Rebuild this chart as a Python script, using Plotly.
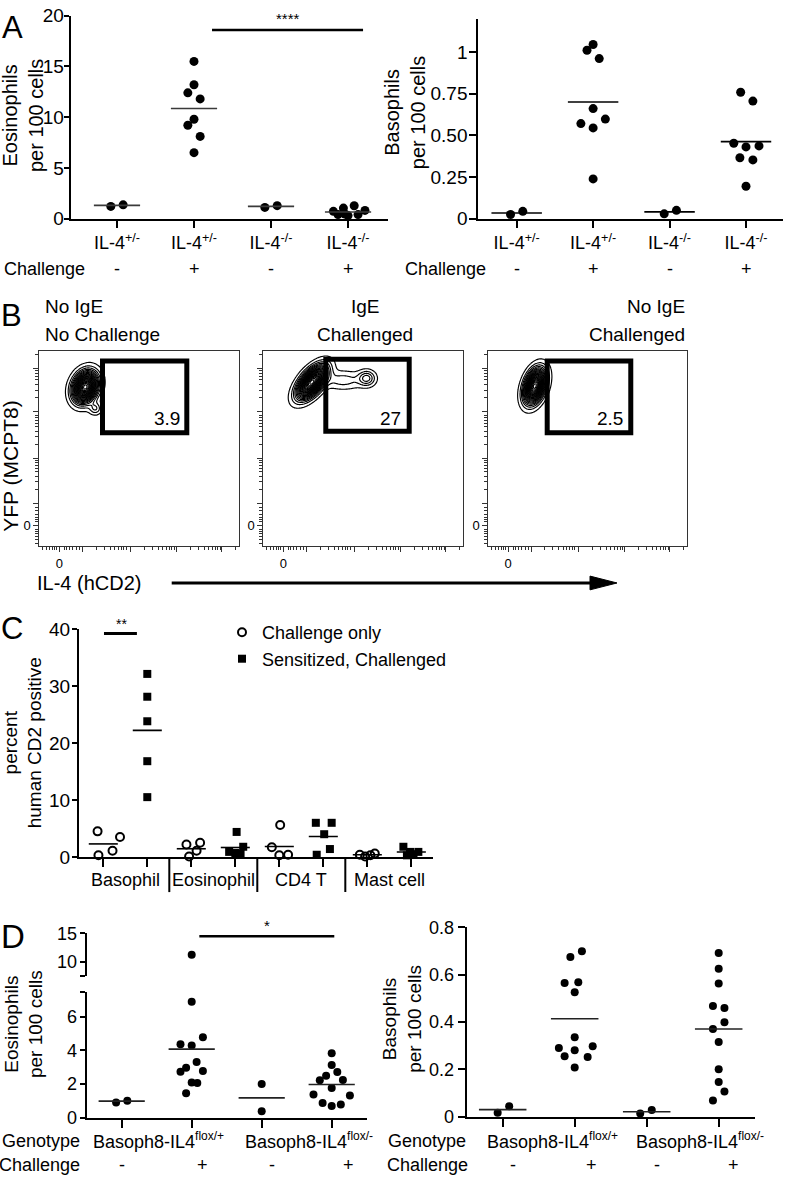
import numpy as np
import plotly.graph_objects as go

W, H = 785, 1186
FONT = "Liberation Sans, Arial, Helvetica, sans-serif"

# ======================= DATA =======================
# ---- Panel A ----
A_LABELS = ["IL-4<sup>+/-</sup>", "IL-4<sup>+/-</sup>", "IL-4<sup>-/-</sup>", "IL-4<sup>-/-</sup>"]
A_CHALLENGE = ["-", "+", "-", "+"]
A_EOS_G1 = [1.2, 1.35]
A_EOS_G2 = [15.5, 13.2, 12.4, 11.8, 9.8, 9.2, 8.1, 6.5]
A_EOS_G3 = [1.1, 1.27]
A_EOS_G4 = [0.71, 1.03, 1.26, 0.80, 0.39, 0.29, 0.39, 0.45]
A_EOS_MEAN = [1.3, 10.85, 1.2, 0.65]
A_BASO_G1 = [0.024, 0.043]
A_BASO_G2 = [1.01, 1.045, 0.96, 0.66, 0.57, 0.544, 0.597, 0.238]
A_BASO_G3 = [0.028, 0.049]
A_BASO_G4 = [0.758, 0.705, 0.452, 0.43, 0.436, 0.365, 0.352, 0.194]
A_BASO_MEAN = [0.033, 0.70, 0.04, 0.462]
A_EOS_SIG = "****"

# ---- Panel B (flow plots) ----
B_TITLES_1 = ["No IgE", "IgE", "No IgE"]
B_TITLES_2 = ["No Challenge", "Challenged", "Challenged"]
B_GATE_PCT = ["3.9", "27", "2.5"]
# contour populations (centre / spread, display units 0-200)
B1_CX, B1_CY, B1_SX, B1_SY, B1_RHO, B1_W = [46, 56], [163, 141], [7.5, 4.0], [9.5, 4.0], [0.2, 0.0], [1.0, 0.12]
B2_CX, B2_CY, B2_SX, B2_SY, B2_RHO, B2_W = [48.5, 80, 103.5], [168, 170, 172], [8.9, 13, 5.5], [10.1, 6, 5], [0.59, 0.0, 0.0], [1.0, 0.10, 0.18]
B3_CX, B3_CY, B3_SX, B3_SY, B3_RHO, B3_W = [46.7], [164], [6.5], [10.5], [0.35], [1.0]

# ---- Panel C ----
C_CELLS = ["Basophil", "Eosinophil", "CD4 T", "Mast cell"]
C_CHAL_BASO = [4.5, 0.3, 1.1, 3.5]
C_SENS_BASO = [32.1, 28.1, 23.8, 16.8, 10.5]
C_CHAL_EOS = [2.2, 2.5, 0.1, 1.1]
C_SENS_EOS = [4.4, 1.8, 0.9, 0.7, 0.6]
C_CHAL_CD4 = [5.6, 1.7, 0.3, 0.4]
C_SENS_CD4 = [6.0, 6.0, 4.0, 1.4, 0.4]
C_CHAL_MAST = [0.4, 0.1, 0.3, 0.6]
C_SENS_MAST = [1.8, 0.9, 0.9, 0.5, 0.3]
C_MEANS = [2.3, 22.2, 1.45, 1.67, 1.85, 3.6, 0.4, 0.88]
C_SIG = "**"

# ---- Panel D ----
D_GENOTYPES = ['Basoph8-IL4<sup><span style="font-size:12px">flox/+</span></sup>',
               'Basoph8-IL4<sup><span style="font-size:12px">flox/-</span></sup>']
D_CHALLENGE = ["-", "+", "-", "+"]
D_EOS_G1 = [0.91, 1.01]
D_EOS_G2 = [11.25, 6.89, 4.78, 4.37, 4.29, 3.32, 2.97, 2.74, 2.78, 2.10, 2.06, 1.46]
D_EOS_G3 = [2.0, 0.39]
D_EOS_G4 = [3.84, 3.13, 2.72, 2.49, 2.23, 2.25, 1.77, 1.38, 1.32, 0.87, 0.70, 0.78]
D_EOS_MEAN = [0.99, 4.08, 1.18, 1.98]
D_BASO_G1 = [0.017, 0.044]
D_BASO_G2 = [0.699, 0.675, 0.565, 0.568, 0.526, 0.336, 0.291, 0.298, 0.281, 0.256, 0.253, 0.208]
D_BASO_G3 = [0.014, 0.028]
D_BASO_G4 = [0.692, 0.626, 0.563, 0.468, 0.46, 0.399, 0.371, 0.316, 0.201, 0.147, 0.107, 0.069]
D_BASO_MEAN = [0.030, 0.414, 0.021, 0.371]
D_EOS_SIG = "*"

# ---- horizontal scatter (jitter) positions, category units ----
A_EOS_OFF = [[-0.08, 0.08], [0, 0, -0.08, 0.08, 0, -0.08, 0.08, 0], [-0.08, 0.08],
             [-0.19, -0.06, 0.08, 0.22, -0.13, 0.0, 0.13, -0.04]]
A_BASO_OFF = [[-0.08, 0.08], [-0.08, 0, 0.08, 0, -0.16, 0, 0.16, 0], [-0.07, 0.09],
              [-0.07, 0.09, -0.16, 0, 0.17, -0.08, 0.09, 0]]
C_CHAL_OFF = [[-0.13, -0.11, 0.21, 0.38], [-0.11, 0.2, -0.05, 0.12], [0.02, -0.17, 0.0, 0.2], [-0.17, -0.05, 0.07, 0.17]]
C_SENS_OFF = [[0, 0, 0, 0, 0], [0.03, 0.18, -0.14, 0.0, 0.12], [-0.17, 0.19, 0.02, 0.15, -0.15], [-0.18, -0.03, 0.16, 0.05, -0.1]]
D_EOS_OFF = [[-0.08, 0.08], [0, 0, 0.16, -0.16, 0, 0.07, -0.08, -0.16, 0.16, 0, 0.08, -0.08], [0, 0],
             [0, 0, 0.08, -0.08, -0.17, 0.16, 0, -0.26, 0.26, -0.13, 0, 0.13]]
D_BASO_OFF = [[-0.07, 0.09], [0.1, -0.06, -0.14, 0.05, 0, 0, -0.22, 0.25, 0, -0.14, 0.18, 0], [-0.09, 0.07],
              [0, 0, 0, -0.08, 0.08, 0.08, -0.08, 0, 0, 0, 0.08, -0.08]]

# ======================= HELPERS =======================
def fx(p):
    return p / W


def fy(p):
    return 1 - p / H


def dx(a, b):
    return [a / W, b / W]


def dy(top, bottom):
    return [1 - bottom / H, 1 - top / H]


fig = go.Figure()
annotations = []
shapes = []


def text(t, x, y, size=18, xanchor="center", yanchor="middle", angle=0, xref="paper", yref="paper"):
    annotations.append(dict(
        text=t, x=fx(x) if xref == "paper" else x, y=fy(y) if yref == "paper" else y,
        xref=xref, yref=yref, showarrow=False, textangle=angle,
        xanchor=xanchor, yanchor=yanchor, font=dict(family=FONT, size=size, color="black")))


def dots(xa, ya, groups, offsets, symbol="circle", size=9, name=None, legend=False, open_=False, keep=None):
    xs, ys = [], []
    for i, (vals, offs) in enumerate(zip(groups, offsets)):
        for v, o in zip(vals, offs):
            if keep is None or keep(v):
                xs.append(i + o)
                ys.append(v)
    marker = dict(symbol=symbol, size=size, color="black")
    if open_:
        marker.update(line=dict(width=2, color="black"))
    fig.add_trace(go.Scatter(x=xs, y=ys, xaxis=xa, yaxis=ya, mode="markers", marker=marker,
                             cliponaxis=False, showlegend=legend, name=name, hoverinfo="skip"))


def means(xa, ya, vals, half=0.33, color="black", width=1.6):
    xs, ys = [], []
    for i, m in enumerate(vals):
        xs += [i - half, i + half, None]
        ys += [m, m, None]
    fig.add_trace(go.Scatter(x=xs, y=ys, xaxis=xa, yaxis=ya, mode="lines",
                             line=dict(color=color, width=width), cliponaxis=False,
                             showlegend=False, hoverinfo="skip"))


def cat_xaxis(dom, rng, anchor, labels=None, n=4, ticklen=7, size=18):
    return dict(domain=dom, range=rng, anchor=anchor, showgrid=False, zeroline=False,
                showline=True, linewidth=2, linecolor="black",
                tickmode="array", tickvals=list(range(n)),
                ticktext=labels if labels is not None else [""] * n,
                ticks="outside", ticklen=ticklen, tickwidth=2, tickcolor="black",
                tickfont=dict(family=FONT, size=size, color="black"), fixedrange=True)


def val_yaxis(dom, rng, anchor, tickvals, ticktext, size=19, ticklen=6, standoff=0):
    return dict(domain=dom, range=rng, anchor=anchor, showgrid=False, zeroline=False,
                showline=True, linewidth=2, linecolor="black",
                tickmode="array", tickvals=tickvals, ticktext=ticktext,
                ticks="outside", ticklen=ticklen, tickwidth=2, tickcolor="black",
                ticklabelstandoff=standoff,
                tickfont=dict(family=FONT, size=size, color="black"), fixedrange=True)


# ======================= PANEL A =======================
dots("x", "y", [A_EOS_G1, A_EOS_G2, A_EOS_G3, A_EOS_G4], A_EOS_OFF, size=9)
means("x", "y", A_EOS_MEAN, half=0.3, color="#3a3a3a")
dots("x2", "y2", [A_BASO_G1, A_BASO_G2, A_BASO_G3, A_BASO_G4], A_BASO_OFF, size=9)
means("x2", "y2", A_BASO_MEAN, half=0.33)

# ======================= PANEL B =======================
B_POPS = [(B1_CX, B1_CY, B1_SX, B1_SY, B1_RHO, B1_W),
          (B2_CX, B2_CY, B2_SX, B2_SY, B2_RHO, B2_W),
          (B3_CX, B3_CY, B3_SX, B3_SY, B3_RHO, B3_W)]
gx = np.arange(0, 135, 0.75)
gy = np.arange(100, 200.01, 0.75)
GX, GY = np.meshgrid(gx, gy)
for k, (cx, cy, sx, sy, rho, w) in enumerate(B_POPS):
    Z = np.zeros_like(GX)
    for c1, c2, s1, s2, r, ww in zip(cx, cy, sx, sy, rho, w):
        u = (GX - c1) / s1
        v = (GY - c2) / s2
        Z += ww * np.exp(-(u * u - 2 * r * u * v + v * v) / (2 * (1 - r * r)))
    Z = np.round(Z / Z.max(), 4)
    fig.add_trace(go.Contour(x=gx, y=gy, z=Z, xaxis=f"x{3 + k}", yaxis=f"y{3 + k}",
                             contours=dict(coloring="lines", start=0.03, end=0.99, size=0.045),
                             line=dict(width=1.15), colorscale=[[0, "black"], [1, "black"]],
                             showscale=False, hoverinfo="skip"))

# ======================= PANEL C =======================
dots("x6", "y6", [C_CHAL_BASO, [], C_CHAL_EOS, [], C_CHAL_CD4, [], C_CHAL_MAST],
     [C_CHAL_OFF[0], [], C_CHAL_OFF[1], [], C_CHAL_OFF[2], [], C_CHAL_OFF[3]],
     symbol="circle-open", size=8, name="Challenge only", legend=True, open_=True)
dots("x6", "y6", [[], C_SENS_BASO, [], C_SENS_EOS, [], C_SENS_CD4, [], C_SENS_MAST],
     [[], C_SENS_OFF[0], [], C_SENS_OFF[1], [], C_SENS_OFF[2], [], C_SENS_OFF[3]],
     symbol="square", size=8, name="Sensitized, Challenged", legend=True)
means("x6", "y6", C_MEANS, half=0.33)

# ======================= PANEL D =======================
D_EOS = [D_EOS_G1, D_EOS_G2, D_EOS_G3, D_EOS_G4]
dots("x7", "y7", D_EOS, D_EOS_OFF, size=8, keep=lambda v: v <= 7.5)
dots("x7", "y8", D_EOS, D_EOS_OFF, size=8, keep=lambda v: v > 7.5)
means("x7", "y7", D_EOS_MEAN, half=0.33, color="#222")
dots("x9", "y9", [D_BASO_G1, D_BASO_G2, D_BASO_G3, D_BASO_G4], D_BASO_OFF, size=8)
means("x9", "y9", D_BASO_MEAN, half=0.33, color="#222")

# ======================= AXES =======================
layout_axes = {}
# A
layout_axes["xaxis"] = cat_xaxis(dx(70.7, 388), [-0.601, 3.519], "y", A_LABELS, size=18)
layout_axes["yaxis"] = val_yaxis(dy(5.9, 212.3), [0, 20], "x", [0, 5, 10, 15, 20],
                                 ["0", "5", "10", "15", "20"], ticklen=5, standoff=-4)
layout_axes["xaxis2"] = cat_xaxis(dx(478.3, 783), [-0.502, 3.484], "y2", A_LABELS, size=18)
layout_axes["yaxis2"] = val_yaxis(dy(8.8, 212.3), [0, 1.2], "x2", [0, 0.25, 0.5, 0.75, 1],
                                  ["0", "0.25", "0.50", "0.75", "1"], ticklen=7, standoff=-2)

# B flow axes
B_MAJOR_X = [20, 43, 91, 137, 182]
B_MAJOR_Y = [21, 44, 90, 138, 182]


def minor_ticks(majors):
    out = [3, 7, 10, 13, 15, 17, 25, 27, 30, 33, 37, 40]
    for a in majors[1:]:
        for m in range(2, 10):
            t = a + 46 * np.log10(m)
            if t < 199:
                out.append(round(float(t), 1))
    return out


B_XDOM = [dx(39.3, 239.3), dx(263.3, 463.3), dx(488.3, 687.3)]
for k in range(3):
    n = 3 + k
    layout_axes[f"xaxis{n}"] = dict(
        domain=B_XDOM[k], range=[0, 200], anchor=f"y{n}", showgrid=False, zeroline=False,
        showline=True, mirror=True, linewidth=1, linecolor="#333",
        tickmode="array", tickvals=B_MAJOR_X, ticktext=["0", "", "", "", ""],
        ticks="outside", ticklen=5, tickwidth=1, tickcolor="#333",
        minor=dict(tickmode="array", tickvals=minor_ticks(B_MAJOR_X), ticks="outside", ticklen=3, tickcolor="#333"),
        tickfont=dict(family=FONT, size=13, color="black"), fixedrange=True)
    layout_axes[f"yaxis{n}"] = dict(
        domain=dy(347, 546), range=[0, 200], anchor=f"x{n}", showgrid=False, zeroline=False,
        showline=True, mirror=True, linewidth=1, linecolor="#333",
        tickmode="array", tickvals=B_MAJOR_Y, ticktext=["0", "", "", "", ""],
        ticks="outside", ticklen=5, tickwidth=1, tickcolor="#333",
        minor=dict(tickmode="array", tickvals=minor_ticks(B_MAJOR_Y), ticks="outside", ticklen=3, tickcolor="#333"),
        tickfont=dict(family=FONT, size=13, color="black"), fixedrange=True)

# C
layout_axes["xaxis6"] = cat_xaxis(dx(79, 432.7), [-0.552, 7.486], "y6", None, n=8, ticklen=8)
layout_axes["yaxis6"] = val_yaxis(dy(630, 862.3), [0, 40], "x6", [0, 10, 20, 30, 40],
                                  ["0", "10", "20", "30", "40"], ticklen=5, standoff=-2)
# D
layout_axes["xaxis7"] = cat_xaxis(dx(86.7, 366.7), [-0.5, 3.5], "y7", None, ticklen=8)
layout_axes["yaxis7"] = val_yaxis(dy(999.3, 1127.7), [0, 7.5], "x7", [0, 2, 4, 6, 7.5],
                                  ["0", "2", "4", "6", ""], size=18, ticklen=5, standoff=-1)
layout_axes["yaxis8"] = val_yaxis(dy(940, 983.3), [7.5, 15], "x7", [7.5, 10, 15],
                                  ["", "10", "15"], size=18, ticklen=5, standoff=-1)
layout_axes["xaxis9"] = cat_xaxis(dx(466.7, 754.7), [-0.5, 3.5], "y9", None, ticklen=8)
layout_axes["yaxis9"] = val_yaxis(dy(934, 1126.7), [0, 0.8], "x9", [0, 0.2, 0.4, 0.6, 0.8],
                                  ["0", "0.2", "0.4", "0.6", "0.8"], size=18, ticklen=7)

# ======================= TEXT / SHAPES =======================
# panel letters
text("A", 12.5, 17.5, size=31)
text("B", 11, 311, size=31)
text("C", 12, 630, size=31)
text("D", 12.5, 943, size=33)

# --- A ---
text("Eosinophils<br>per 100 cells", 23, 108, size=20, angle=-90)
text("Basophils<br>per 100 cells", 405, 105, size=20, angle=-90)
text("Challenge", 2, 264, xanchor="left")
text("Challenge", 403, 264, xanchor="left")
for i, s in enumerate(A_CHALLENGE):
    text(s, i, 264, xref="x")
    text(s, i, 264, xref="x2")
shapes.append(dict(type="line", xref="x", yref="y", x0=1.234, x1=3.195, y0=18.6, y1=18.6,
                   line=dict(color="black", width=2.5)))
text(A_EOS_SIG, 287.7, 9, size=15)

# --- B ---
text(B_TITLES_1[0], 43, 302, size=19, xanchor="left")
text(B_TITLES_2[0], 43, 330, size=19, xanchor="left")
text(B_TITLES_1[1], 365, 302, size=19)
text(B_TITLES_2[1], 365, 330, size=19)
text(B_TITLES_1[2], 687, 302, size=19, xanchor="right")
text(B_TITLES_2[2], 687, 330, size=19, xanchor="right")
B_GATES = [(63.2, 147.5, 116.2, 189.5), (62.5, 145.9, 117.8, 191.5), (59.2, 143.2, 116.2, 189.5)]
B_LABEL_X = [181.7, 403, 625]
for k, (x0, x1, y0, y1) in enumerate(B_GATES):
    shapes.append(dict(type="rect", xref=f"x{3 + k}", yref=f"y{3 + k}", x0=x0, x1=x1, y0=y0, y1=y1,
                       line=dict(color="black", width=5)))
    text(B_GATE_PCT[k], B_LABEL_X[k], 416, size=19, xanchor="right")
text("YFP (MCPT8)", 11, 465, size=21, angle=-90)
text("IL-4 (hCD2)", 35, 583, size=20, xanchor="left")
shapes.append(dict(type="line", xref="paper", yref="paper", x0=fx(171.7), x1=fx(594), y0=fy(583.3), y1=fy(583.3),
                   line=dict(color="black", width=3)))
shapes.append(dict(type="path", xref="paper", yref="paper",
                   path=f"M {fx(590)},{fy(576.3)} L {fx(617)},{fy(583.3)} L {fx(590)},{fy(590.3)} Z",
                   fillcolor="black", line=dict(color="black", width=1)))

# --- C ---
text("percent<br>human CD2 positive", 22.5, 746, size=19, angle=-90)
for i, c in enumerate(C_CELLS):
    text(c, 2 * i + 0.5, 886, xref="x6")
for sep in [1.5, 3.5, 5.5]:
    shapes.append(dict(type="line", xref="x6", yref="paper", x0=sep, x1=sep, y0=fy(862.3), y1=fy(898),
                       line=dict(color="black", width=2)))
shapes.append(dict(type="line", xref="x6", yref="y6", x0=0.016, x1=0.764, y0=39.2, y1=39.2,
                   line=dict(color="black", width=3)))
text(C_SIG, 121, 625, size=14)

# --- D ---
text("Eosinophils<br>per 100 cells", 23.3, 1032, size=19, angle=-90)
text("Basophils<br>per 100 cells", 402, 1027, size=19, angle=-90)
shapes.append(dict(type="line", xref="x7", yref="y8", x0=1.109, x1=3.037, y0=14.5, y1=14.5,
                   line=dict(color="black", width=2.5)))
text(D_EOS_SIG, 266.7, 932, size=15)
text("Genotype", 81.7, 1151, xanchor="right")
text("Challenge", 81.7, 1176, xanchor="right")
text(D_GENOTYPES[0], 158.5, 1151)
text(D_GENOTYPES[1], 309, 1151)
for s, xp in zip(D_CHALLENGE, [122, 202, 272, 348]):
    text(s, xp, 1176)
text("Genotype", 468.3, 1151, xanchor="right")
text("Challenge", 470, 1176, xanchor="right")
text(D_GENOTYPES[0], 552.5, 1151)
text(D_GENOTYPES[1], 700, 1151)
for s, xp in zip(D_CHALLENGE, [513.3, 591.7, 656.7, 733.3]):
    text(s, xp, 1176)

fig.update_layout(
    width=W, height=H, autosize=False,
    margin=dict(l=0, r=0, t=0, b=0),
    paper_bgcolor="white", plot_bgcolor="rgba(0,0,0,0)",
    font=dict(family=FONT, size=18, color="black"),
    annotations=annotations, shapes=shapes,
    legend=dict(x=fx(222), y=fy(615), xanchor="left", yanchor="top",
                font=dict(family=FONT, size=18, color="black"),
                bgcolor="rgba(0,0,0,0)", tracegroupgap=0, itemwidth=30),
    **layout_axes,
)

fig.write_html("out.html", config={"displayModeBar": False},
               post_script="document.body.style.margin='0';document.body.style.padding='0';"
                           "document.body.style.overflow='hidden';")
